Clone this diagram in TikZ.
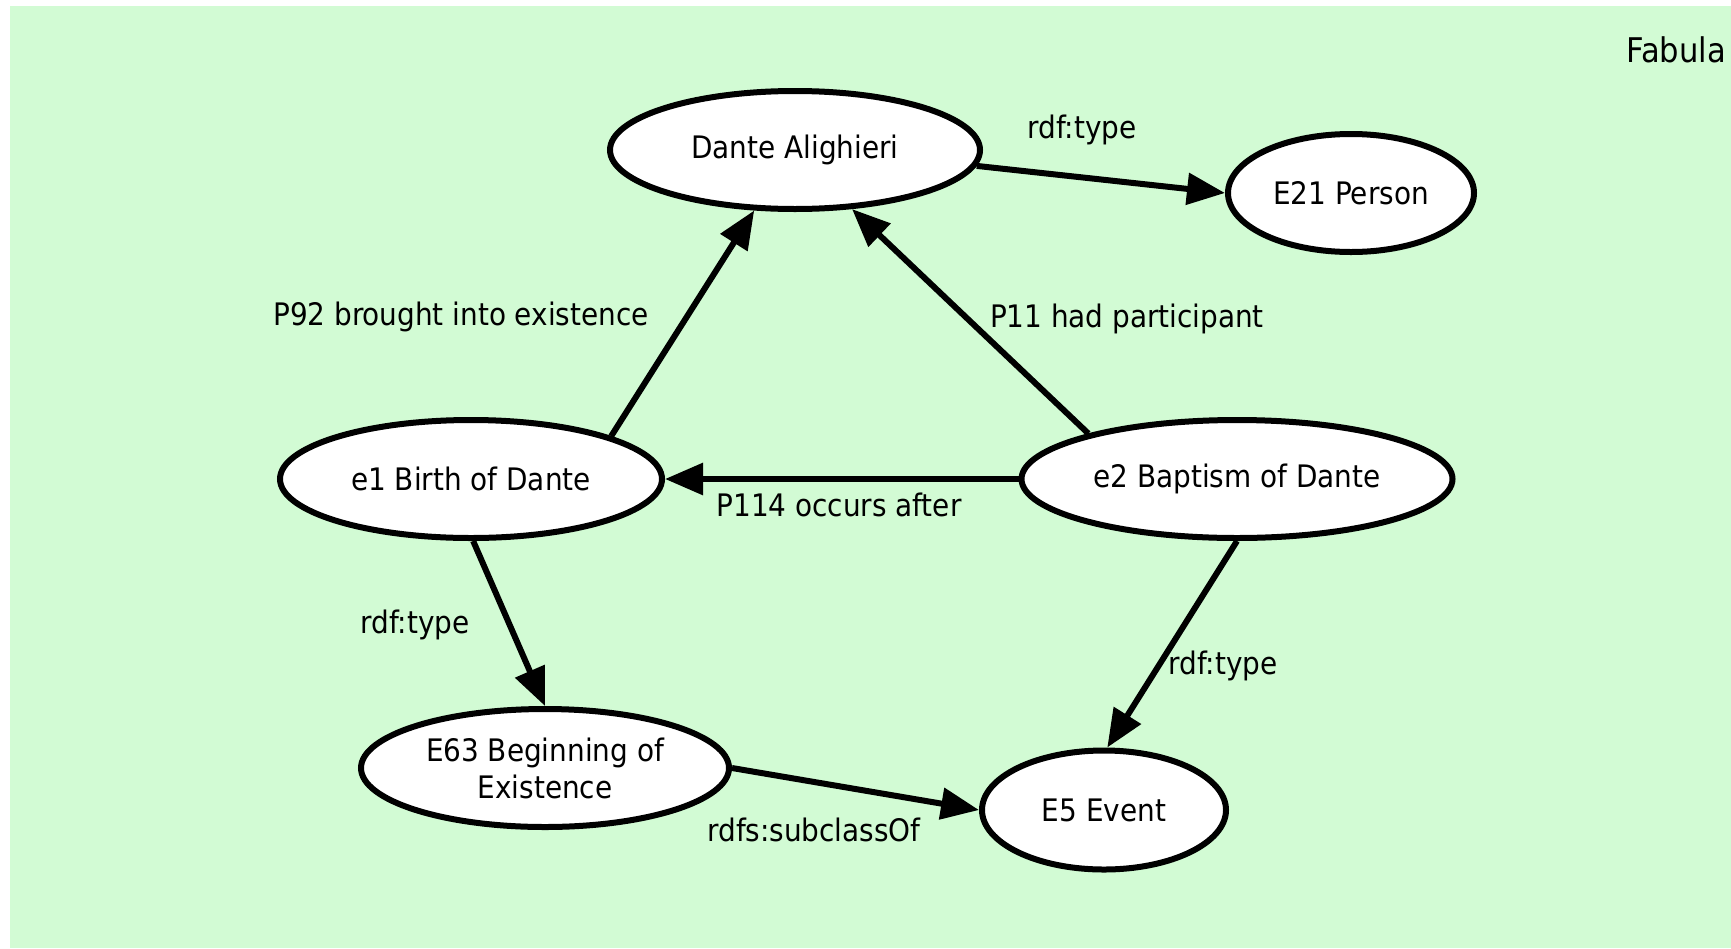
\documentclass[tikz,border=0pt]{standalone}
\usepackage{fontspec}
\setmainfont{DejaVu Sans Condensed}
\usetikzlibrary{shapes.geometric,arrows.meta}
\definecolor{fabulabg}{RGB}{210,251,212}
\tikzset{
  concept/.style={ellipse, draw=black, line width=6pt, fill=white,
    inner sep=0pt, font=\fontsize{31}{37}\selectfont, align=center},
  rel/.style={line width=6pt, -{Triangle[length=38pt,width=31pt]}},
  lbl/.style={font=\fontsize{31}{37}\selectfont, inner sep=0pt}
}
\begin{document}
\begin{tikzpicture}[x=1pt,y=-1pt]
  \useasboundingbox (0,0) rectangle (1731,948);
  \fill[fabulabg] (10,6) rectangle (1731,948);

  \node[lbl, anchor=east, font=\fontsize{34}{40}\selectfont] (fabula) at (1726,50) {Fabula};

  % resources and classes
  \node[concept, minimum width=370pt, minimum height=118pt] (dante) at (795,150) {Dante Alighieri};
  \node[concept, minimum width=246pt, minimum height=118pt] (person) at (1351,193) {E21 Person};
  \node[concept, minimum width=382pt, minimum height=118pt] (birth) at (471,479) {e1 Birth of Dante};
  \node[concept, minimum width=431pt, minimum height=118pt] (baptism) at (1237,479) {e2 Baptism of Dante};
  \node[concept, minimum width=368pt, minimum height=118pt] (beginning) at (545,768) {E63 Beginning of\\Existence};
  \node[concept, minimum width=244pt, minimum height=119pt] (event) at (1104,810) {E5 Event};

  % properties
  \draw[rel] (dante.-5.6) -- (person.west);
  \draw[rel] (birth.17.4) -- (dante.236.5);
  \draw[rel] (baptism.163.5) -- (dante.314.5);
  \draw[rel] (baptism.west) -- (birth.east);
  \draw[rel] (birth.-88) -- (beginning.90);
  \draw[rel] (baptism.270) -- (event.87);
  \draw[rel] (beginning.east) -- (event.west);

  % property labels
  \node[lbl] (l1) at (1082,130) {rdf:type};
  \node[lbl] (l2) at (461,317) {P92 brought into existence};
  \node[lbl] (l3) at (1127,319) {P11 had participant};
  \node[lbl] (l4) at (839,505) {P114 occurs after};
  \node[lbl] (l5) at (415,625) {rdf:type};
  \node[lbl] (l6) at (1223,666) {rdf:type};
  \node[lbl] (l7) at (814,830) {rdfs:subclassOf};
\end{tikzpicture}
\end{document}
